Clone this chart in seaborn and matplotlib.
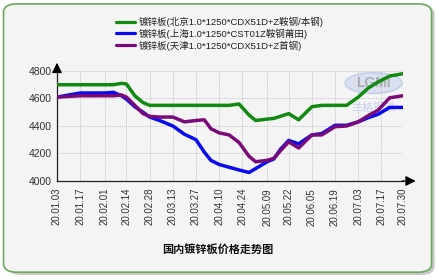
import matplotlib
matplotlib.use("Agg")
import matplotlib.pyplot as plt
import matplotlib.dates as mdates
from matplotlib.patches import FancyBboxPatch, Ellipse
from matplotlib.lines import Line2D
import seaborn as sns
import pandas as pd

dates = ["2020-01-03", "2020-01-10", "2020-01-17", "2020-01-24", "2020-02-01", "2020-02-06",
         "2020-02-11", "2020-02-14", "2020-02-19", "2020-02-24", "2020-02-28", "2020-03-05",
         "2020-03-13", "2020-03-20", "2020-03-27", "2020-04-01", "2020-04-05", "2020-04-10",
         "2020-04-16", "2020-04-22", "2020-04-28", "2020-05-02", "2020-05-09", "2020-05-13",
         "2020-05-17", "2020-05-22", "2020-05-28", "2020-06-05", "2020-06-11", "2020-06-19",
         "2020-06-26", "2020-07-03", "2020-07-09", "2020-07-15", "2020-07-22", "2020-07-30"]
beijing = [4700, 4700, 4700, 4700, 4700, 4700, 4710, 4705, 4620, 4570, 4550, 4550,
           4550, 4550, 4550, 4550, 4550, 4550, 4550, 4560, 4480, 4440, 4450, 4455,
           4470, 4490, 4445, 4540, 4550, 4550, 4550, 4610, 4675, 4720, 4763, 4780]
shanghai = [4610, 4625, 4640, 4640, 4640, 4645, 4620, 4595, 4540, 4500, 4465, 4440,
            4400, 4340, 4300, 4210, 4150, 4120, 4100, 4080, 4062, 4090, 4140, 4160,
            4230, 4295, 4270, 4335, 4345, 4405, 4405, 4430, 4460, 4485, 4535, 4535]
tianjin = [4610, 4615, 4620, 4620, 4620, 4620, 4625, 4610, 4550, 4490, 4470, 4465,
           4465, 4430, 4440, 4445, 4380, 4350, 4335, 4280, 4180, 4140, 4150, 4165,
           4220, 4285, 4240, 4335, 4335, 4395, 4400, 4430, 4475, 4515, 4605, 4620]
series_names = ["镀锌板(北京1.0*1250*CDX51D+Z鞍钢/本钢)",
                "镀锌板(上海1.0*1250*CST01Z鞍钢莆田)",
                "镀锌板(天津1.0*1250*CDX51D+Z首钢)"]
tick_dates = ["2020-01-03", "2020-01-17", "2020-02-01", "2020-02-14", "2020-02-28", "2020-03-13",
              "2020-03-27", "2020-04-10", "2020-04-24", "2020-05-09", "2020-05-22", "2020-06-05",
              "2020-06-19", "2020-07-03", "2020-07-17", "2020-07-30"]
y_ticks = [4000, 4200, 4400, 4600, 4800]
title = "国内镀锌板价格走势图"

frames = []
for name, vals in zip(series_names, [beijing, shanghai, tianjin]):
    frames.append(pd.DataFrame({"date": pd.to_datetime(dates), "price": vals, "series": name}))
df = pd.concat(frames, ignore_index=True)

sns.set_style("white")
plt.rcParams["font.family"] = ["Liberation Sans", "Noto Sans CJK SC", "DejaVu Sans"]

fig = plt.figure(figsize=(4.39, 2.80), dpi=100)
fig.patch.set_facecolor("white")

# shadow + rounded frame
shadow = FancyBboxPatch((0.018, 0.018), 0.972, 0.962, boxstyle="round,pad=0,rounding_size=0.03",
                        transform=fig.transFigure, facecolor="#c8c8c8", edgecolor="none", zorder=-2)
frame = FancyBboxPatch((0.008, 0.028), 0.975, 0.958, boxstyle="round,pad=0,rounding_size=0.03",
                       transform=fig.transFigure, facecolor="#f4f4f4", edgecolor="#6aaa5a",
                       linewidth=1.2, zorder=-1)
fig.patches.extend([shadow, frame])

ax = fig.add_axes([0.1298, 0.3536, 0.788, 0.3929])
ax.set_facecolor("none")
palette = {series_names[0]: "#128a12", series_names[1]: "#0a0aee", series_names[2]: "#7a0a7a"}
sns.lineplot(data=df, x="date", y="price", hue="series", palette=palette, linewidth=2.5,
             ax=ax, legend=False, zorder=3)

tick_dt = pd.to_datetime(tick_dates)
ax.set_xlim(tick_dt[0], tick_dt[-1])
ax.set_ylim(4000, 4800)
ax.set_xticks(tick_dt)
ax.xaxis.set_major_formatter(mdates.DateFormatter("%y.%m.%d"))
ax.set_yticks(y_ticks)
ax.tick_params(axis="x", labelrotation=90, labelsize=7, colors="#333333", length=3, width=0.8, pad=2)
ax.tick_params(axis="y", labelsize=7.5, colors="#333333", length=3, width=0.8, pad=1)
ax.tick_params(axis="both", direction="out", color="#222222")
ax.grid(True, color="#b0b0b0", linestyle=(0, (1, 1.5)), linewidth=0.6)
ax.set_xlabel("")
ax.set_ylabel("")
for s in ["top", "right"]:
    ax.spines[s].set_visible(False)
for s in ["left", "bottom"]:
    ax.spines[s].set_color("#222222")
    ax.spines[s].set_linewidth(0.9)

# axis arrows
ax.annotate("", xy=(1.045, 0), xytext=(0.99, 0), xycoords="axes fraction",
            arrowprops=dict(arrowstyle="-|>,head_length=0.6,head_width=0.3", color="black", lw=0.9),
            annotation_clip=False)
ax.annotate("", xy=(0, 1.1), xytext=(0, 0.98), xycoords="axes fraction",
            arrowprops=dict(arrowstyle="-|>,head_length=0.6,head_width=0.3", color="black", lw=0.9),
            annotation_clip=False)

# watermark
ax.add_patch(Ellipse((0.915, 0.89), 0.165, 0.19, transform=ax.transAxes, facecolor="#c3cdee",
                     edgecolor="#9fb0e0", alpha=0.5, zorder=1))
ax.text(0.915, 0.89, "LGMI", transform=ax.transAxes, ha="center", va="center", fontsize=10,
        color="#8c8c8c", alpha=0.6, fontweight="bold", zorder=1)
ax.text(0.915, 0.67, "兰格钢铁", transform=ax.transAxes, ha="center", va="center", fontsize=8,
        color="#aebbe6", alpha=0.65, zorder=1)

# legend
handles = [Line2D([0], [0], color=palette[n], linewidth=2.3) for n in series_names]
fig.legend(handles, series_names, loc="upper left", bbox_to_anchor=(0.25, 0.965), frameon=False,
           fontsize=6.8, handlelength=2.0, handletextpad=0.4, labelspacing=0.15, borderpad=0.2,
           labelcolor="#222222")

fig.text(0.495, 0.105, title, ha="center", va="center", fontsize=8, fontweight="bold",
         color="#111111")

fig.savefig("out.png", dpi=100, facecolor="white")
